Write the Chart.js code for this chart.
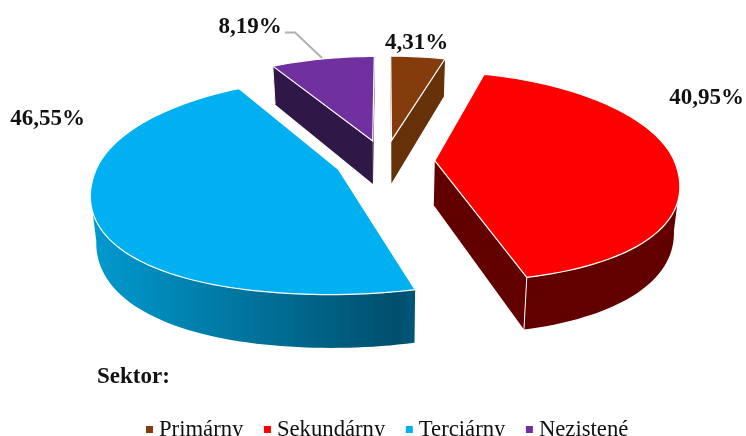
<!DOCTYPE html>
<html lang="sk">
<head>
    <meta charset="UTF-8">
    <title>Sektor</title>
    <script src="https://cdn.jsdelivr.net/npm/chart.js"></script>
    <style>
        html, body { margin: 0; padding: 0; background: #fff; overflow: hidden; }
        canvas { display: block; }
    </style>
</head>
<body>
    <canvas id="pieChart" width="746" height="436"></canvas>

    <script>
        const categories = ["Primárny", "Sekundárny", "Terciárny", "Nezistené"];
        const shares = [4.31, 40.95, 46.55, 8.19];
        const shareLabels = ["4,31%", "40,95%", "46,55%", "8,19%"];
        const topColors = ["#843C0C", "#FF0000", "#00B0F0", "#7030A0"];
        const sideColors = ["#663009", "#620000", null, "#2F1748"];
        const serif = '"Liberation Serif", "Times New Roman", serif';

        // perspective of the pie plane, fitted by eye to the picture
        const view = { cx: 385, cy: 161, a: 239.5, b: 103, p: 0.153, depth: 44.5, shrink: 0.98, explode: 0.208, bulge: 0.035 };
        const labelSpots = [[416.5, 49], [706.5, 104], [47.5, 125], [250, 33]];

        function project(u, v, lower) {
            const w = 1 - view.p * v;
            const x = view.a * u / w;
            const y = view.b * v / w;
            if (lower) return [view.cx + x * view.shrink, view.cy + y + view.depth / w];
            return [view.cx + x, view.cy + y];
        }

        function tracePath(ctx, pts) {
            ctx.beginPath();
            pts.forEach((p, i) => i ? ctx.lineTo(p[0], p[1]) : ctx.moveTo(p[0], p[1]));
            ctx.closePath();
        }

        // a wall only shows where stepping down from its top edge leaves the cap
        function faces(ctx, cap, p, q) {
            tracePath(ctx, cap);
            return !ctx.isPointInPath((p[0] + q[0]) / 2, (p[1] + q[1]) / 2 + 3);
        }

        function drawSlice(ctx, arc, i) {
            const mid = (arc.startAngle + arc.endAngle) / 2;
            const ox = Math.cos(mid) * view.explode;
            const oy = Math.sin(mid) * view.explode;
            const rim = [];
            const steps = Math.max(2, Math.ceil((arc.endAngle - arc.startAngle) / 0.03));
            for (let s = 0; s <= steps; s++) {
                const t = arc.startAngle + (arc.endAngle - arc.startAngle) * s / steps;
                // near edge of the picture's pie is a little fuller than an ellipse
                const r = Math.sin(t) > 0 ? 1 + view.bulge * Math.sin(2 * t) ** 2 : 1;
                rim.push([ox + r * Math.cos(t), oy + r * Math.sin(t)]);
            }
            const up = rim.map(p => project(p[0], p[1], false));
            const low = rim.map(p => project(p[0], p[1], true));
            const apexUp = project(ox, oy, false);
            const apexLow = project(ox, oy, true);
            const cap = [apexUp].concat(up);

            let side = sideColors[i];
            if (!side) {
                side = ctx.createLinearGradient(92, 0, 412, 0);
                side.addColorStop(0, "#009ACF");
                side.addColorStop(0.95, "#004F6C");
                side.addColorStop(1, "#00567A");
            }
            ctx.fillStyle = side;

            const shown = [];
            for (let s = 0; s < steps; s++) {
                if (faces(ctx, cap, up[s], up[s + 1])) shown.push(s);
            }
            if (shown.length) {
                const first = shown[0];
                const last = shown[shown.length - 1] + 1;
                tracePath(ctx, up.slice(first, last + 1).concat(low.slice(first, last + 1).reverse()));
                ctx.fill();
            }
            const startWall = faces(ctx, cap, apexUp, up[0]);
            const endWall = faces(ctx, cap, apexUp, up[steps]);
            if (startWall) {
                tracePath(ctx, [apexUp, up[0], low[0], apexLow]);
                ctx.fill();
            }
            if (endWall) {
                tracePath(ctx, [apexUp, up[steps], low[steps], apexLow]);
                ctx.fill();
            }

            ctx.strokeStyle = "#fff";
            ctx.lineWidth = 1;
            if (endWall && shown.includes(steps - 1)) {
                ctx.beginPath();
                ctx.moveTo(up[steps][0], up[steps][1]);
                ctx.lineTo(low[steps][0], low[steps][1]);
                ctx.stroke();
            }
            if (startWall && shown.includes(0)) {
                ctx.beginPath();
                ctx.moveTo(up[0][0], up[0][1]);
                ctx.lineTo(low[0][0], low[0][1]);
                ctx.stroke();
            }

            ctx.fillStyle = arc.options.backgroundColor;
            tracePath(ctx, cap);
            ctx.fill();
            ctx.lineWidth = 1.2;
            ctx.stroke();
        }

        const pie3d = {
            id: "pie3d",
            beforeDatasetsDraw(chart) {
                const ctx = chart.ctx;
                const arcs = chart.getDatasetMeta(0).data;
                ctx.save();
                [3, 0, 2, 1].forEach(i => drawSlice(ctx, arcs[i], i));
                ctx.restore();
                return false;
            },
            afterDraw(chart) {
                const ctx = chart.ctx;
                ctx.save();
                // leader line of the purple slice
                ctx.strokeStyle = "#B0B0B0";
                ctx.lineWidth = 2;
                ctx.beginPath();
                ctx.moveTo(285, 32.5);
                ctx.lineTo(295, 32.5);
                ctx.lineTo(322, 58);
                ctx.stroke();

                ctx.fillStyle = "#111";
                ctx.textAlign = "center";
                ctx.textBaseline = "alphabetic";
                ctx.font = "bold 23px " + serif;
                shareLabels.forEach((t, i) => ctx.fillText(t, labelSpots[i][0], labelSpots[i][1]));

                ctx.textAlign = "left";
                ctx.fillText("Sektor:", 97, 383);

                ctx.font = "22.7px " + serif;
                let x = 146;
                categories.forEach((name, i) => {
                    ctx.fillStyle = topColors[i];
                    ctx.fillRect(x, 426, 7, 7);
                    ctx.fillStyle = "#111";
                    ctx.fillText(name, x + 13, 436);
                    x += 13 + ctx.measureText(name).width + 20.5;
                });
                ctx.restore();
            }
        };

        new Chart(document.getElementById("pieChart"), {
            type: "pie",
            data: {
                labels: categories,
                datasets: [{ data: shares, backgroundColor: topColors, borderWidth: 0 }]
            },
            options: {
                responsive: false,
                animation: false,
                layout: { padding: { left: 144, right: 120, top: 57, bottom: 171 } },
                plugins: { legend: { display: false }, tooltip: { enabled: false } }
            },
            plugins: [pie3d]
        });
    </script>
</body>
</html>
